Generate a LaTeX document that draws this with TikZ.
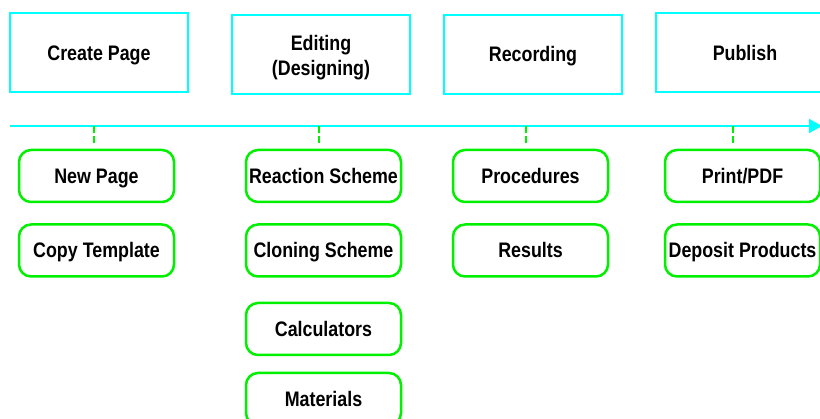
\documentclass[tikz,border=0pt]{standalone}
\usepackage{fontspec}
\setmainfont[FakeStretch=0.85]{Liberation Sans}
\usetikzlibrary{positioning, arrows.meta, calc}
\definecolor{cStage}{RGB}{0,255,255}
\definecolor{cTask}{RGB}{0,240,0}

\tikzset{
    stage/.style={draw=cStage, line width=2pt, minimum width=178pt, minimum height=79pt, align=center, inner sep=0pt, text height=15pt, text depth=0pt},
    task/.style={draw=cTask, line width=2.5pt, rounded corners=12pt, minimum width=155pt, minimum height=52pt, inner sep=0pt, text height=15pt, text depth=0pt},
    tick/.style={draw=cTask, line width=2pt, dash pattern=on 7pt off 3pt, shorten >=6pt}
}

\begin{document}
\begin{tikzpicture}[x=1pt, y=-1pt, font=\fontsize{21}{25}\selectfont\bfseries]

    \useasboundingbox (0,0) rectangle (820,419);
    \clip (0,0) rectangle (820,419);

    % --- Stages ---
    \node[stage] (create) at (99,53) {Create Page};
    \node[stage, text height=42pt] (editing) at (321,54.5) {Editing\\(Designing)};
    \node[stage] (recording) at (533,54.5) {Recording};
    \node[stage] (publish) at (745,53) {Publish};

    % --- Timeline ---
    \coordinate (tstart) at (10,126);
    \coordinate (tend) at (822,126);
    \draw[cStage, line width=2pt, -{Triangle[length=13pt, width=14pt]}] (tstart) -- (tend);

    % --- Tasks ---
    % \x, \y, \name, \txt
    \foreach \x/\y/\name/\txt in {
        96.5/176/newpage/New Page,
        96.5/250.5/copytpl/Copy Template,
        323.5/176/reaction/Reaction Scheme,
        323.5/250.5/cloning/Cloning Scheme,
        323.5/329/calc/Calculators,
        323.5/399/materials/Materials,
        530.5/176/procedures/Procedures,
        530.5/250.5/results/Results,
        742.5/176/print/{Print/PDF},
        742.5/250.5/deposit/Deposit Products%
    } {
        \node[task] (\name) at (\x,\y) {\txt};
    }

    % --- Ticks from timeline to first task ---
    \foreach \x/\name in {94/newpage, 319/reaction, 526/procedures, 733/print} {
        \coordinate (t-\name) at (\x,126);
        \draw[tick] (t-\name) -- (t-\name |- \name.north);
    }

\end{tikzpicture}
\end{document}
